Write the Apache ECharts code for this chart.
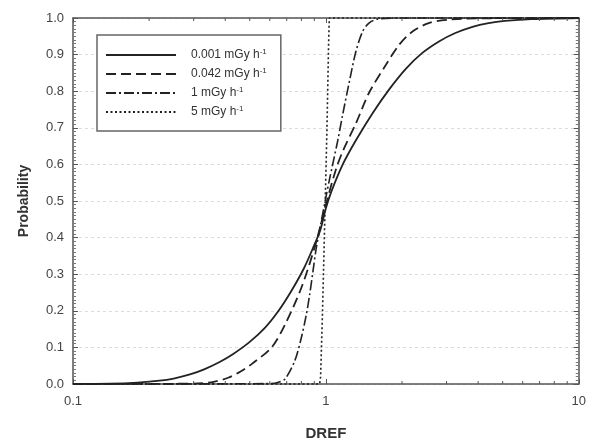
<!DOCTYPE html>
<html>
<head>
<meta charset="utf-8">
<script src="https://cdn.jsdelivr.net/npm/echarts@6/dist/echarts.min.js"></script>
<style>html,body{margin:0;padding:0;background:#fff;}#c{width:589px;height:446px;}</style>
</head>
<body>
<div id="c"></div>
<script>
// ---- data ----
const seriesNames = ['0.001', '0.042', '1', '5'];
const xSolid = [0.1, 0.14, 0.18, 0.22, 0.25, 0.29, 0.33, 0.38, 0.43, 0.5, 0.575, 0.65, 0.73, 0.82, 0.9, 0.95, 1.0, 1.05, 1.17, 1.32, 1.53, 1.78, 2.07, 2.4, 2.8, 3.25, 3.8, 4.4, 5.1, 6.5, 10];
const ySolid = [0, 0.001, 0.004, 0.009, 0.015, 0.026, 0.04, 0.06, 0.082, 0.115, 0.154, 0.2, 0.254, 0.317, 0.38, 0.42, 0.48, 0.525, 0.602, 0.668, 0.74, 0.805, 0.861, 0.904, 0.936, 0.959, 0.976, 0.986, 0.992, 0.997, 1];
const xDashed = [0.1, 0.3, 0.36, 0.41, 0.46, 0.51, 0.61, 0.69, 0.8, 0.9, 0.95, 1.0, 1.1, 1.17, 1.32, 1.48, 1.73, 1.95, 2.2, 2.55, 3, 4, 10];
const yDashed = [0, 0.001, 0.006, 0.017, 0.034, 0.055, 0.1, 0.163, 0.263, 0.37, 0.43, 0.49, 0.59, 0.638, 0.715, 0.795, 0.873, 0.927, 0.963, 0.986, 0.995, 0.999, 1];
const xDashDot = [0.1, 0.6, 0.65, 0.69, 0.754, 0.8, 0.837, 0.863, 0.889, 0.916, 0.95, 1.0, 1.034, 1.114, 1.166, 1.239, 1.315, 1.397, 1.48, 1.6, 2, 10];
const yDashDot = [0, 0.001, 0.005, 0.014, 0.064, 0.127, 0.19, 0.245, 0.308, 0.371, 0.43, 0.51, 0.56, 0.665, 0.737, 0.827, 0.909, 0.963, 0.986, 0.997, 1, 1];
const xDotted = [0.1, 0.945, 0.953, 0.97, 0.99, 1.01, 1.025, 1.032, 10];
const yDotted = [0, 0, 0.02, 0.2, 0.45, 0.7, 0.93, 1, 1];
const xMinorTicks = [0.2, 0.3, 0.4, 0.5, 0.6, 0.7, 0.8, 0.9, 2, 3, 4, 5, 6, 7, 8, 9];
const xTickLabels = ['0.1', '1', '10'];
const yTickLabels = ['0.0','0.1','0.2','0.3','0.4','0.5','0.6','0.7','0.8','0.9','1.0'];

const zip = (xs, ys) => xs.map((x, i) => [x, ys[i]]);
const ink = '#222';
const axisCol = '#555';

const chart = echarts.init(document.getElementById('c'), null, {renderer: 'canvas'});

function lineSeries(name, data, type, width, smooth) {
  return {
    name: name, type: 'line', data: data, symbol: 'none', showSymbol: false,
    smooth: smooth, clip: false,
    lineStyle: {color: ink, width: width, type: type},
    itemStyle: {color: ink},
    z: 3
  };
}

const option = {
  animation: false,
  backgroundColor: '#fff',
  grid: {left: 73, right: 6, top: 18, bottom: 59, containLabel: false},
  legend: {
    orient: 'vertical', left: 97, top: 35,
    padding: [13, 14, 13, 8], itemGap: 6, itemWidth: 70, itemHeight: 14,
    borderColor: '#666', borderWidth: 1.5, backgroundColor: '#fff',
    data: seriesNames,
    itemStyle: {opacity: 0},
    formatter: n => '{b|' + n + ' mGy h}{s|-1}',
    textStyle: {
      color: '#333', padding: [0, 0, 0, 10],
      rich: {
        b: {fontFamily: 'Liberation Sans', fontSize: 12, color: '#333', lineHeight: 14},
        s: {fontFamily: 'Liberation Sans', fontSize: 8, color: '#333', verticalAlign: 'top', lineHeight: 8}
      }
    }
  },
  xAxis: [
    {
      type: 'log', logBase: 10, min: 0.1, max: 10, position: 'bottom',
      name: 'DREF', nameLocation: 'middle', nameGap: 42,
      nameTextStyle: {fontFamily: 'Liberation Sans', fontWeight: 'bold', fontSize: 15, color: '#333'},
      axisLine: {show: true, onZero: false, lineStyle: {color: axisCol, width: 1.5}},
      axisTick: {show: true, inside: true, length: 5, lineStyle: {color: axisCol}},
      axisLabel: {margin: 11, fontFamily: 'Liberation Sans', fontSize: 13, color: '#444',
        formatter: v => { const i = Math.round(Math.log10(v)) + 1; return xTickLabels[i] !== undefined ? xTickLabels[i] : ''; }},
      splitLine: {show: false}
    },
    {
      type: 'log', logBase: 10, min: 0.1, max: 10, position: 'top',
      axisLine: {show: true, onZero: false, lineStyle: {color: axisCol, width: 1.5}},
      axisTick: {show: true, inside: true, length: 5, lineStyle: {color: axisCol}},
      axisLabel: {show: false}, splitLine: {show: false}
    }
  ],
  yAxis: [
    {
      type: 'value', min: 0, max: 1, interval: 0.1, position: 'left',
      name: 'Probability', nameLocation: 'middle', nameGap: 42, nameRotate: 90,
      nameTextStyle: {fontFamily: 'Liberation Sans', fontWeight: 'bold', fontSize: 14, color: '#333'},
      axisLine: {show: true, onZero: false, lineStyle: {color: axisCol, width: 1.5}},
      axisTick: {show: true, inside: true, length: 5, lineStyle: {color: axisCol}},
      minorTick: {show: true, splitNumber: 10, length: 3, lineStyle: {color: '#777'}},
      axisLabel: {margin: 9, fontFamily: 'Liberation Sans', fontSize: 13, color: '#444',
        formatter: v => yTickLabels[Math.round(v * 10)]},
      splitLine: {show: true, lineStyle: {color: '#dcdcdc', type: [3, 3], width: 1}}
    },
    {
      type: 'value', min: 0, max: 1, interval: 0.1, position: 'right',
      axisLine: {show: true, onZero: false, lineStyle: {color: axisCol, width: 1.5}},
      axisTick: {show: true, inside: true, length: 5, lineStyle: {color: axisCol}},
      minorTick: {show: true, splitNumber: 10, length: 3, lineStyle: {color: '#777'}},
      axisLabel: {show: false}, splitLine: {show: false}
    }
  ],
  series: [
    lineSeries(seriesNames[0], zip(xSolid, ySolid), 'solid', 1.8, 0.3),
    lineSeries(seriesNames[1], zip(xDashed, yDashed), [10, 5], 1.8, 0.3),
    lineSeries(seriesNames[2], zip(xDashDot, yDashDot), [10, 3, 2, 3], 1.6, 0.3),
    lineSeries(seriesNames[3], zip(xDotted, yDotted), [2, 2.5], 1.6, false),
    {
      type: 'custom', silent: true, z: 5, clip: false,
      data: xMinorTicks.map(x => [x]),
      encode: {x: 0},
      renderItem: function (params, api) {
        const x = api.value(0);
        const b = api.coord([x, 0]);
        const t = api.coord([x, 1]);
        const st = {stroke: axisCol, lineWidth: 1};
        return {type: 'group', children: [
          {type: 'line', shape: {x1: b[0], y1: b[1], x2: b[0], y2: b[1] - 3}, style: st},
          {type: 'line', shape: {x1: t[0], y1: t[1], x2: t[0], y2: t[1] + 3}, style: st}
        ]};
      }
    }
  ]
};
chart.setOption(option);
</script>
</body>
</html>
